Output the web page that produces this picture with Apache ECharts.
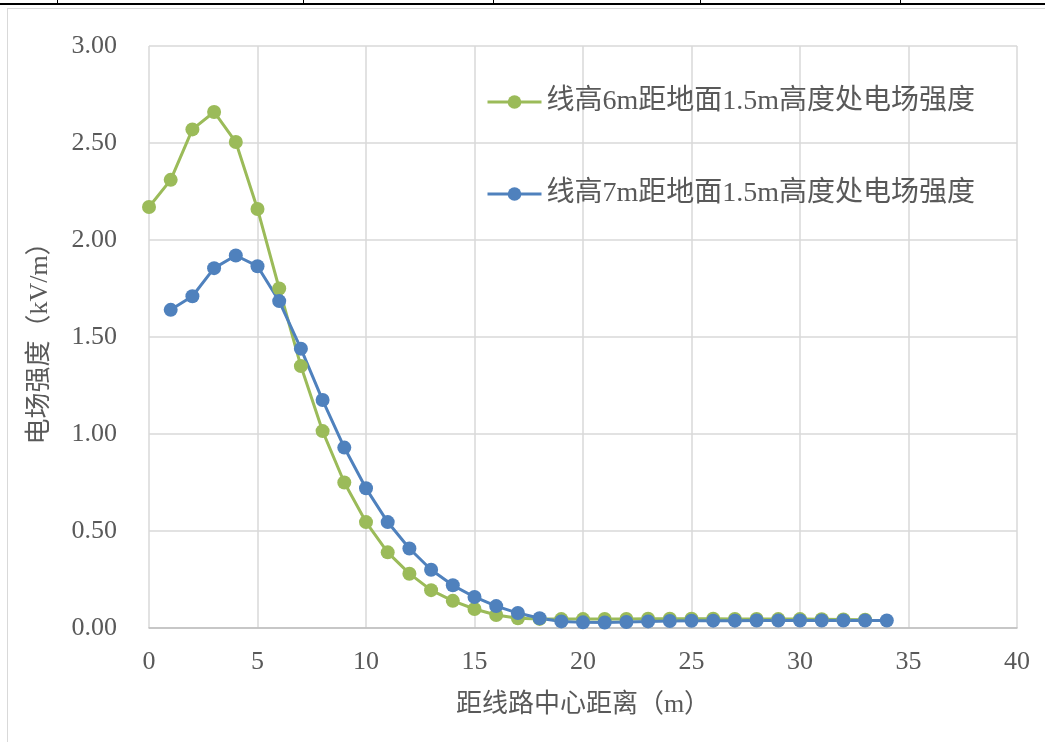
<!DOCTYPE html>
<html><head><meta charset="utf-8">
<script src="https://cdn.jsdelivr.net/npm/echarts@6/dist/echarts.min.js"></script>
<style>
html,body{margin:0;padding:0;background:#fff;}
#topline{position:absolute;left:0;top:3px;width:1045px;height:2px;background:#000;}
.tick{position:absolute;top:0;width:1px;height:4px;background:#000;}
#frame{position:absolute;left:7px;top:8px;width:1045px;height:740px;border:1px solid #d9d9d9;box-sizing:border-box;}
#chart{position:absolute;left:0;top:0;width:1045px;height:742px;}
</style></head>
<body>
<div id="topline"></div>
<div class="tick" style="left:57px"></div><div class="tick" style="left:303px"></div><div class="tick" style="left:493px"></div><div class="tick" style="left:700px"></div><div class="tick" style="left:900px"></div>
<div id="frame"></div>
<div id="chart"></div>
<script>
const xGreen = [0,1,2,3,4,5,6,7,8,9,10,11,12,13,14,15,16,17,18,19,20,21,22,23,24,25,26,27,28,29,30,31,32,33];
const green = [2.17,2.31,2.57,2.66,2.505,2.16,1.75,1.35,1.015,0.75,0.546,0.39,0.28,0.195,0.14,0.098,0.067,0.05,0.047,0.046,0.046,0.047,0.047,0.048,0.048,0.048,0.048,0.047,0.047,0.046,0.046,0.045,0.044,0.043];
const xBlue = [1,2,3,4,5,6,7,8,9,10,11,12,13,14,15,16,17,18,19,20,21,22,23,24,25,26,27,28,29,30,31,32,33,34];
const blue = [1.64,1.71,1.855,1.92,1.865,1.685,1.44,1.175,0.93,0.72,0.546,0.41,0.30,0.22,0.16,0.113,0.077,0.05,0.034,0.029,0.028,0.031,0.034,0.036,0.037,0.038,0.038,0.039,0.039,0.039,0.039,0.039,0.039,0.039];
const seriesNames = ['线高6m距地面1.5m高度处电场强度','线高7m距地面1.5m高度处电场强度'];
const xName = '距线路中心距离（m）';
const yName = '电场强度（kV/m）';

const chart = echarts.init(document.getElementById('chart'));
const txt = '#595959';
const font = "'Liberation Serif','Noto Sans CJK SC',serif";
chart.setOption({
  animation:false,
  grid:{left:149,right:28,top:46,bottom:114,containLabel:false},
  legend:{
    orient:'vertical', left:481, top:83, itemGap:64, itemWidth:54, itemHeight:17,
    lineStyle:{width:3},
    textStyle:{color:txt,fontSize:28,fontFamily:font},
    data:seriesNames
  },
  xAxis:{
    type:'value',min:0,max:40,interval:5,
    name:xName,nameLocation:'middle',nameGap:64,
    nameTextStyle:{color:txt,fontSize:26,fontFamily:font},
    axisLine:{show:true,lineStyle:{color:'#bfbfbf',width:1.5}},
    axisTick:{show:false},
    axisLabel:{color:txt,fontSize:26,fontFamily:font,margin:21},
    splitLine:{show:true,lineStyle:{color:'#d9d9d9',width:1.5}}
  },
  yAxis:{
    type:'value',min:0,max:3,interval:0.5,
    name:yName,nameLocation:'middle',nameGap:96,
    nameTextStyle:{color:txt,fontSize:26,fontFamily:font},
    axisLine:{show:false},axisTick:{show:false},
    axisLabel:{color:txt,fontSize:26,fontFamily:font,margin:32,formatter:v=>v.toFixed(2)},
    splitLine:{show:true,lineStyle:{color:'#d9d9d9',width:1.5}}
  },
  series:[
    {name:seriesNames[0],type:'line',data:xGreen.map((x,i)=>[x,green[i]]),
     symbol:'circle',symbolSize:14,lineStyle:{color:'#9bbb59',width:3},itemStyle:{color:'#9bbb59'}},
    {name:seriesNames[1],type:'line',data:xBlue.map((x,i)=>[x,blue[i]]),
     symbol:'circle',symbolSize:14,lineStyle:{color:'#4f81bd',width:3},itemStyle:{color:'#4f81bd'}}
  ]
});
</script>
</body></html>
